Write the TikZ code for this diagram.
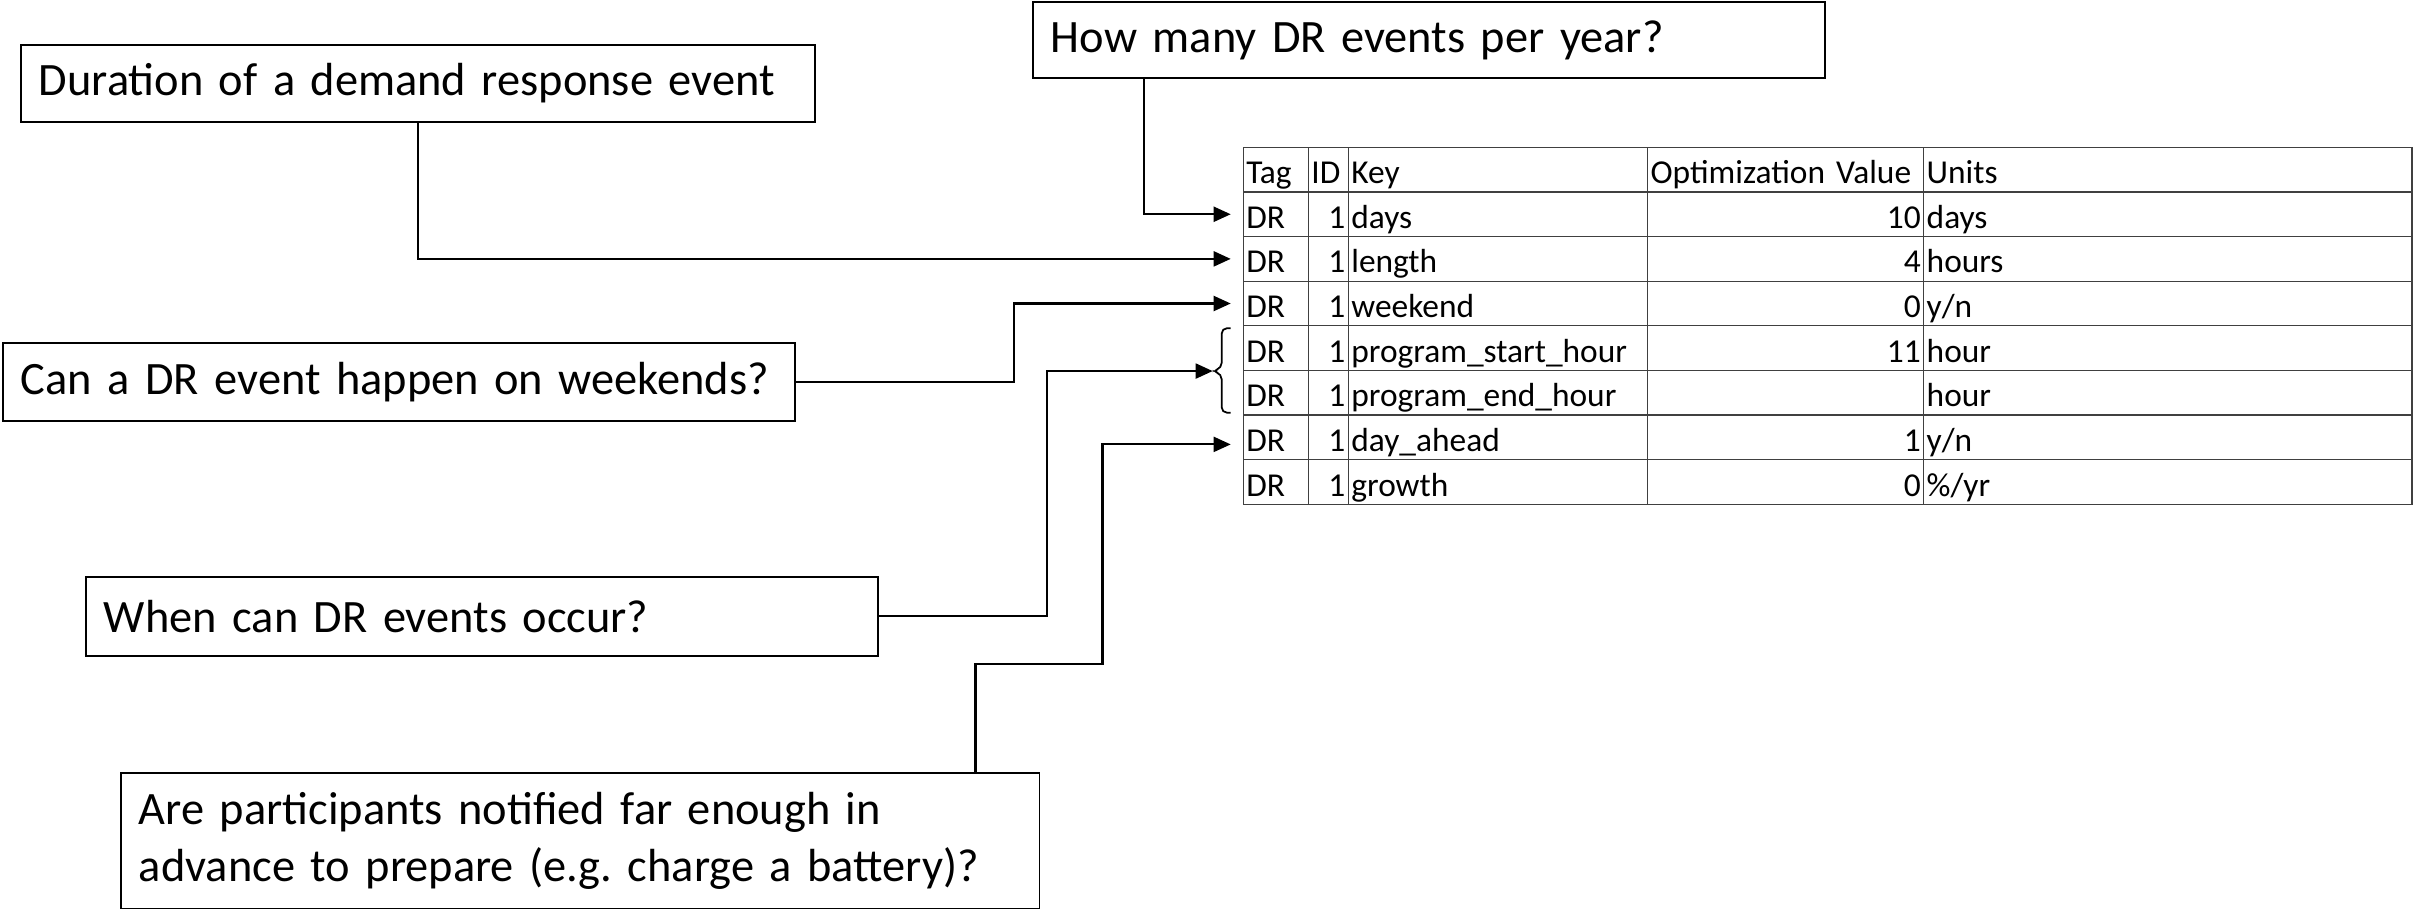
\documentclass[tikz,border=0pt]{standalone}
\usepackage{fontspec}
\setmainfont{Carlito}
\usetikzlibrary{matrix,arrows.meta}
\newcommand\askfont{\fontsize{13.2}{16.2}\selectfont}
\newcommand\tabfont{\fontsize{9.5}{11.4}\selectfont}
\frenchspacing

\begin{document}
\begin{tikzpicture}
    [x=0.01cm,y=-0.01cm,
     ask/.style={draw,line width=0.5pt,anchor=north west,inner xsep=0.18cm,inner ysep=0pt,align=left,font=\askfont},
     cell/.style={draw=black!75,line width=0.35pt,minimum height=0.446cm,inner xsep=0.03cm,inner ysep=0pt,
       text height=9pt,text depth=1pt,font=\tabfont},
     link/.style={line width=0.6pt,-{Triangle[length=0.17cm,width=0.15cm]}}]
    \useasboundingbox (0,0) rectangle (2414,909);
    \node[ask,text width=7.58cm,minimum height=0.77cm] (dur) at (20,44) {Duration of a demand response event};
    \node[ask,text width=7.56cm,minimum height=0.76cm] (many) at (1032,1) {How many DR events per year?};
    \node[ask,text width=7.56cm,minimum height=0.78cm] (wkend) at (2,342) {Can a DR event happen on weekends?};
    \node[ask,text width=7.56cm,minimum height=0.79cm] (when) at (85,576) {When can DR events occur?};
    \node[ask,text width=8.82cm,minimum height=1.36cm] (ahead) at (120,772)
      {Are participants notified far enough in\\advance to prepare (e.g. charge a battery)?};
    \matrix (tab) [matrix of nodes,nodes in empty cells,anchor=north west,inner sep=0pt,
        row sep=-0.35pt,column sep=-0.35pt,nodes={cell},
        column 1/.style={nodes={text width=0.59cm,align=left}},
        column 2/.style={nodes={text width=0.34cm,align=right}},
        column 3/.style={nodes={text width=2.93cm,align=left}},
        column 4/.style={nodes={text width=2.70cm,align=right}},
        column 5/.style={nodes={text width=4.82cm,align=left}},
        row 1/.style={nodes={align=left}}] at (1242,146) {
      Tag & ID & Key & Optimization Value & Units \\
      DR & 1 & days & 10 & days \\
      DR & 1 & length & 4 & hours \\
      DR & 1 & weekend & 0 & y/n \\
      DR & 1 & program\_start\_hour & 11 & hour \\
      DR & 1 & program\_end\_hour & & hour \\
      DR & 1 & day\_ahead & 1 & y/n \\
      DR & 1 & growth & 0 & \%/yr \\
    };
    \coordinate (bracetip) at ([xshift=-0.3cm]tab-5-1.south west);
    \draw[line width=0.5pt,rounded corners=1.5pt]
      ([xshift=-0.12cm,yshift=-0.03cm]tab-5-1.north west) -- ++(-9,0) -- ([xshift=0.09cm,yshift=0.03cm]bracetip)
      -- (bracetip) -- ([xshift=0.09cm,yshift=-0.03cm]bracetip) |- ([xshift=-0.12cm,yshift=0.03cm]tab-6-1.south west);
    \draw[link] ([xshift=1.12cm]many.south west) |- ([xshift=-0.12cm]tab-2-1.west);
    \draw[link] (dur.south) |- ([xshift=-0.12cm]tab-3-1.west);
    \draw[link] (wkend.east) -- ++(218,0) |- ([xshift=-0.12cm]tab-4-1.west);
    \draw[link] (when.east) -- ++(168,0) |- (bracetip);
    \draw[link] ([xshift=8.55cm]ahead.north west) |- ++(127,-108) |- ([xshift=-0.12cm,yshift=-0.07cm]tab-7-1.west);
\end{tikzpicture}
\end{document}
